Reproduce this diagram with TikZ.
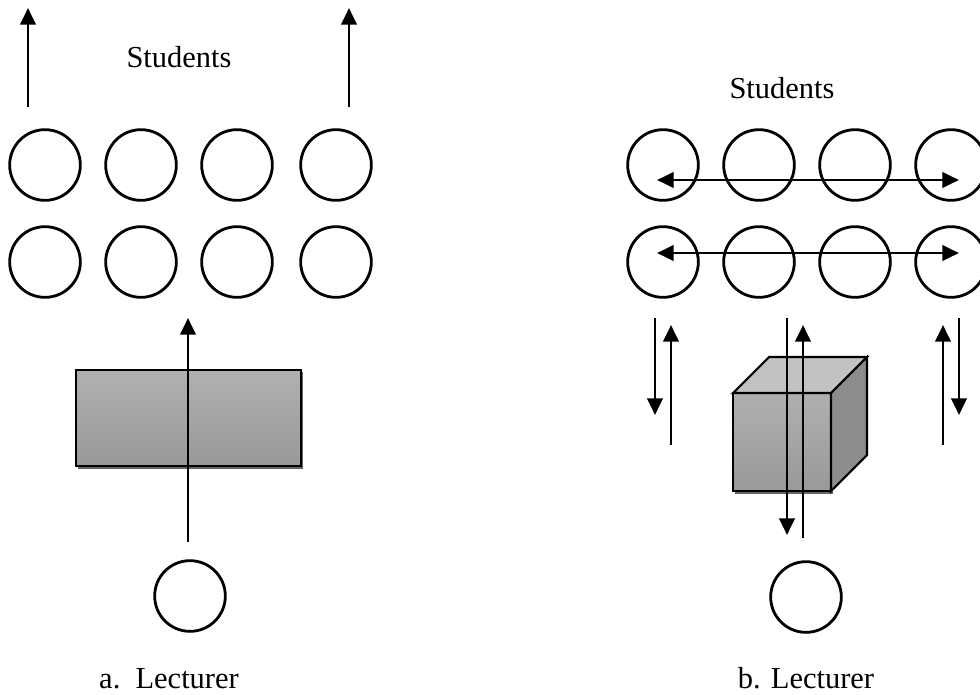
\documentclass[tikz,border=0pt]{standalone}
\usepackage{fontspec}
\setmainfont{Liberation Serif}
\usepackage{tikz}
\usetikzlibrary{arrows.meta}

\begin{document}
\begin{tikzpicture}[x=0.03cm, y=-0.03cm,
        student/.style={circle, draw, line width=2.4pt, minimum size=2.12cm, inner sep=0pt},
        arr/.style={line width=2.5pt, -{Triangle[length=0.5cm, width=0.46cm]}},
        darr/.style={line width=2.5pt, {Triangle[length=0.5cm, width=0.46cm]}-{Triangle[length=0.5cm, width=0.46cm]}},
        lbl/.style={font=\fontsize{26}{30}\selectfont, inner sep=0pt}]
            \useasboundingbox (0,0) rectangle (980,694);

            \draw[arr]  (28,107) -- (28,8);
            \draw[arr]  (349,107) -- (349,8);
            \node[lbl] (stuA) at (179,57) {Students};

            \node[student] (a11) at (45,165) {};
            \node[student] (a12) at (141,165) {};
            \node[student] (a13) at (237,165) {};
            \node[student] (a14) at (336,165) {};
            \node[student] (a21) at (45,262) {};
            \node[student] (a22) at (141,262) {};
            \node[student] (a23) at (237,262) {};
            \node[student] (a24) at (336,262) {};

            \fill[black!60]  (78,372) rectangle (303,469);
            \shade[top color=black!31, bottom color=black!40, draw=black, line width=1.8pt]  (76,370) rectangle (301,466);
            \draw[arr]  (188,542) -- (188,318);
            \node[student] (lecA) at (190,596) {};
            \node[lbl, anchor=base west] (labA) at (99,688) {a.\ \ Lecturer};

            \node[lbl] (stuB) at (782,88) {Students};

            \node[student] (b11) at (663,165) {};
            \node[student] (b12) at (759,165) {};
            \node[student] (b13) at (855,165) {};
            \node[student] (b14) at (951,165) {};
            \node[student] (b21) at (663,262) {};
            \node[student] (b22) at (759,262) {};
            \node[student] (b23) at (855,262) {};
            \node[student] (b24) at (951,262) {};
            \draw[darr]  (657,180) -- (959,180);
            \draw[darr]  (657,253) -- (959,253);

            \draw[arr]  (655,318) -- (655,415);
            \draw[arr]  (671,445) -- (671,325);
            \draw[arr]  (943,445) -- (943,325);
            \draw[arr]  (959,318) -- (959,415);

            \fill[black!60]  (735,395) rectangle (833,494);
            \shade[top color=black!31, bottom color=black!40, draw=black, line width=1.8pt]  (733,393) rectangle (831,491);
            \fill[black!24, draw=black, line width=1.8pt]  (733,393) -- (769,357) -- (867,357) -- (831,393) -- cycle;
            \fill[black!45, draw=black, line width=1.8pt]  (831,393) -- (867,357) -- (867,455) -- (831,491) -- cycle;
            \draw[arr]  (787,318) -- (787,535);
            \draw[arr]  (803,538) -- (803,325);
            \node[student] (lecB) at (806,597) {};
            \node[lbl, anchor=base] (labB) at (806,688) {b. Lecturer};
        \end{tikzpicture}
\end{document}
